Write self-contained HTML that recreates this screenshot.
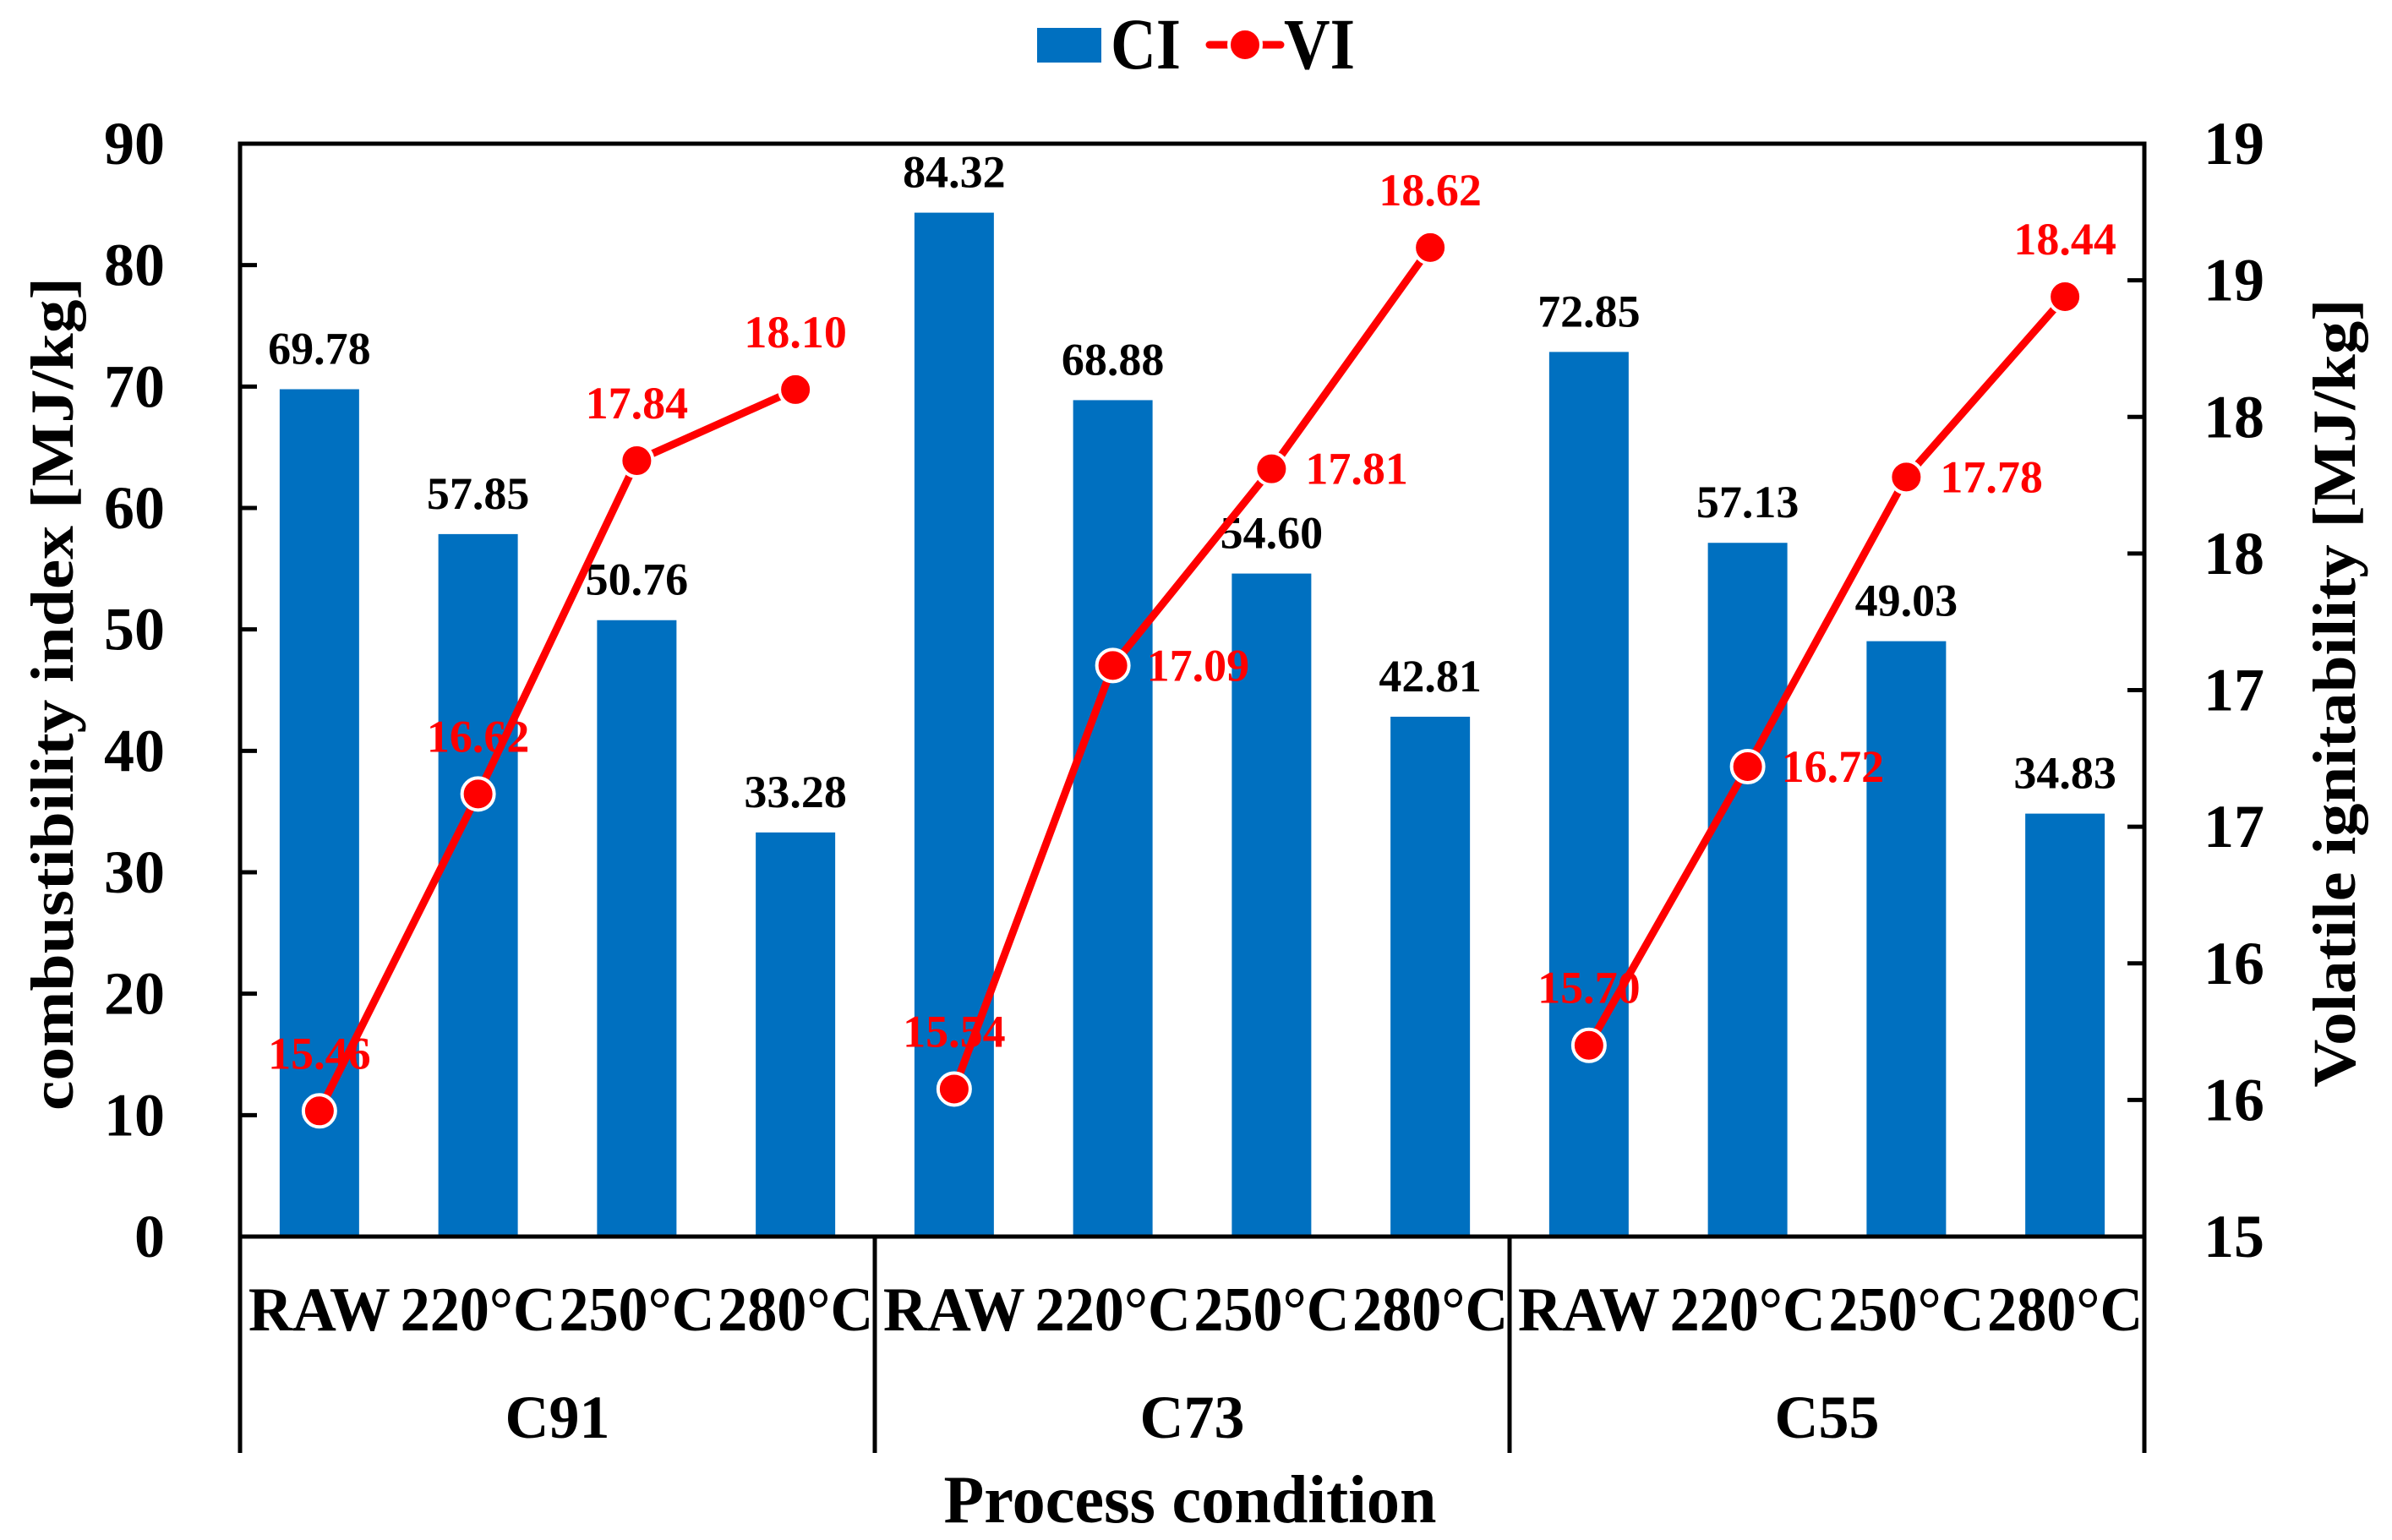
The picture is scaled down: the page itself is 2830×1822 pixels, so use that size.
<!DOCTYPE html>
<html><head><meta charset="utf-8"><style>
html,body{margin:0;padding:0;background:#fff;}
svg{display:block;font-family:"Liberation Serif",serif;font-weight:bold;}
</style></head><body>
<svg id="chart" width="2830" height="1822" viewBox="0 0 2830 1822" xmlns="http://www.w3.org/2000/svg">
<g>
<rect x="1227" y="33" width="76" height="41" fill="#0070C0"/>
<text x="1314" y="81" font-size="86" textLength="83" lengthAdjust="spacingAndGlyphs">CI</text>
<line x1="1431" y1="53" x2="1515" y2="53" stroke="#ff0000" stroke-width="9" stroke-linecap="round"/>
<circle cx="1473" cy="53" r="19" fill="#ff0000" stroke="#fff" stroke-width="4"/>
<text x="1519" y="81" font-size="86" textLength="84" lengthAdjust="spacingAndGlyphs">VI</text>
</g>
<g id="plot"></g>
</svg>
<script>
const groups = ["C91","C73","C55"];
const conditions = ["RAW","220°C","250°C","280°C"];
const ciValues = [69.78,57.85,50.76,33.28, 84.32,68.88,54.60,42.81, 72.85,57.13,49.03,34.83];
const viValues = [15.46,16.62,17.84,18.10, 15.54,17.09,17.81,18.62, 15.70,16.72,17.78,18.44];
const leftTicks = [0,10,20,30,40,50,60,70,80,90];
const rightTicks = [15,15.5,16,16.5,17,17.5,18,18.5,19];
const rightTickLabels = ["15","16","16","17","17","18","18","19","19"];

const NS="http://www.w3.org/2000/svg";
const L=284,R=2537,T=170,B=1463;
const n=ciValues.length, slot=(R-L)/n;
const xC=i=>L+slot*(i+0.5);
const yL=v=>B-(v/90)*(B-T);
const yR=v=>B-((v-15)/4)*(B-T);
const g=document.getElementById('plot');
function mk(tag,attrs,parent){const e=document.createElementNS(NS,tag);for(const k in attrs)e.setAttribute(k,attrs[k]);(parent||g).appendChild(e);return e;}

// bars
for(let i=0;i<n;i++){
  const y=yL(ciValues[i]);
  const b=mk('rect',{x:xC(i)-47,y:y,width:94,height:B-y,fill:'#0070C0'});
  
  
  const t=mk('text',{x:xC(i),y:y-30,'font-size':54,'text-anchor':'middle',fill:'#000'});
  t.textContent=ciValues[i].toFixed(2);
  
  
}
// VI labels (under line)
for(let i=0;i<n;i++){
  const cx=xC(i), cy=yR(viValues[i]);
  const side=(i%4===1||i%4===2)&&i>=4;
  const t=mk('text',{x:side?cx+40:cx,y:side?cy+18:cy-50,'font-size':54,'text-anchor':side?'start':'middle',fill:'#ff0000'});
  t.textContent=viValues[i].toFixed(2);
  
  
}
// VI lines per group
for(let gi=0;gi<groups.length;gi++){
  const pts=[];
  for(let k=0;k<4;k++){const i=gi*4+k;pts.push(xC(i)+','+yR(viValues[i]));}
  const p=mk('polyline',{points:pts.join(' '),fill:'none',stroke:'#ff0000','stroke-width':9,'stroke-linejoin':'round'});
  
  
}
for(let i=0;i<n;i++){
  const c=mk('circle',{cx:xC(i),cy:yR(viValues[i]),r:19,fill:'#ff0000',stroke:'#fff','stroke-width':4});
  
  
}
// axes frame
const fr=mk('rect',{x:L,y:T,width:R-L,height:B-T,fill:'none',stroke:'#000','stroke-width':5});


// left ticks
for(const v of leftTicks){
  const y=yL(v);
  const tk=mk('line',{x1:L,y1:y,x2:L+20,y2:y,stroke:'#000','stroke-width':5});
  
  
  const t=mk('text',{x:195,y:y+24,'font-size':72,'text-anchor':'end'});
  t.textContent=String(v);
  
  
}
// right ticks
for(let j=0;j<rightTicks.length;j++){
  const y=yR(rightTicks[j]);
  const tk=mk('line',{x1:R-20,y1:y,x2:R,y2:y,stroke:'#000','stroke-width':5});
  
  
  const t=mk('text',{x:2607,y:y+24,'font-size':72,'text-anchor':'start'});
  t.textContent=rightTickLabels[j];
  
  
}
// category labels
for(let i=0;i<n;i++){
  const lab=conditions[i%4];
  const t=mk('text',{x:xC(i),y:1574,'font-size':74,'text-anchor':'middle',textLength:lab==='RAW'?168:184,lengthAdjust:'spacingAndGlyphs'});
  t.textContent=lab;
  
  
}
// group separators & labels
for(let gi=0;gi<=groups.length;gi++){
  const x=L+slot*4*gi;
  const s=mk('line',{x1:x,y1:B,x2:x,y2:1719,stroke:'#000','stroke-width':5});
  
  
}
for(let gi=0;gi<groups.length;gi++){
  const t=mk('text',{x:L+slot*(4*gi+2),y:1701,'font-size':72,'text-anchor':'middle'});
  t.textContent=groups[gi];
  
  
}
// axis titles
const xt=mk('text',{x:1408,y:1801,'font-size':80,'text-anchor':'middle',textLength:583,lengthAdjust:'spacingAndGlyphs'});
xt.textContent='Process condition';


const yt=mk('text',{x:0,y:0,'font-size':72,'text-anchor':'middle',textLength:986,lengthAdjust:'spacingAndGlyphs',transform:'translate(86,821) rotate(-90)'});
yt.textContent='combustibility index  [MJ/kg]';


const yt2=mk('text',{x:0,y:0,'font-size':72,'text-anchor':'middle',textLength:933,lengthAdjust:'spacingAndGlyphs',transform:'translate(2786,820) rotate(-90)'});
yt2.textContent='Volatile ignitability [MJ/kg]';


</script>
</body></html>
